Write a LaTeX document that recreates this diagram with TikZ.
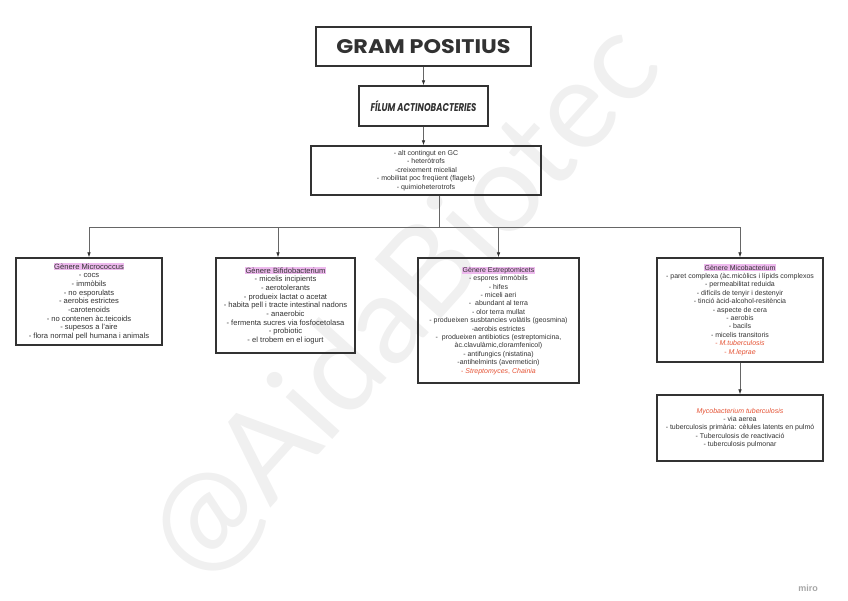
\documentclass[tikz,border=0pt]{standalone}
\usepackage{graphicx}
\usepackage{fontspec}
\setmainfont{Liberation Sans}
\newfontfamily\titlefont{Poppins}
\newfontfamily\wmfont{Lato}
\usetikzlibrary{arrows.meta}
\definecolor{ink}{RGB}{50,50,50}
\definecolor{hilite}{RGB}{238,186,238}
\definecolor{spred}{RGB}{228,82,52}
\newcommand{\genhead}[1]{{\fboxsep=0.6pt\colorbox{hilite}{#1}}}
\newcommand{\spname}[1]{\textcolor{spred}{\itshape #1}}
\tikzset{
  box/.style={draw=ink,line width=1.3pt,align=center,text=ink,inner sep=0pt,
    font=\fontsize{7}{8.4}\selectfont},
  bigbox/.style={box,font=\fontsize{7.6}{8.7}\selectfont},
  arr/.style={draw=black!60,line width=.7pt,-{Latex[length=5pt,width=3.6pt,color=black!80]}},
}
\begin{document}
\begin{tikzpicture}[x=1pt,y=-1pt]
  \useasboundingbox (0,0) rectangle (848,600);
  % watermark
  \node[rotate=48,text=black!6,font=\wmfont\fontsize{124}{124}\selectfont] (mark) at (405,302) {@AidaBiotec};
  \node[text=black!35,font=\bfseries\fontsize{9}{9}\selectfont] (miro) at (808,588) {miro};
  % top of the tree
  \node[box,line width=1.8pt,minimum width=215pt,minimum height=39pt] (gram) at (423.5,46.5)
    {\resizebox{174pt}{14pt}{\titlefont\bfseries GRAM POSITIUS}};
  \node[box,minimum width=129pt,minimum height=40pt] (filum) at (423.5,106)
    {\resizebox{106pt}{11pt}{\titlefont\bfseries\itshape FÍLUM ACTINOBACTERIES}};
  \node[box,minimum width=230pt,minimum height=49pt] (char) at (426,170.5)
    {- alt contingut en GC\\ - heteròtrofs\\ -creixement micelial\\
     - mobilitat poc freqüent (flagels)\\ - quimioheterotrofs};
  % genera
  \node[bigbox,minimum width=146pt,minimum height=87pt] (micro) at (89,301.5)
    {\genhead{Gènere Micrococcus}\\ - cocs\\ - immòbils\\ - no esporulats\\
     - aerobis estrictes\\ -carotenoids\\ - no contenen àc.teicoids\\
     - supesos a l'aire\\ - flora normal pell humana i animals};
  \node[bigbox,minimum width=139pt,minimum height=95pt] (bifido) at (285.5,305.5)
    {\genhead{Gènere Bifidobacterium}\\ - micelis incipients\\ - aerotolerants\\
     - produeix lactat o acetat\\ - habita pell i tracte intestinal nadons\\
     - anaerobic\\ - fermenta sucres via fosfocetolasa\\ - probiotic\\
     - el trobem en el iogurt};
  \node[box,minimum width=161pt,minimum height=125pt] (strep) at (498.5,320.5)
    {\genhead{Gènere Estreptomicets}\\ - espores immòbils\\ - hifes\\ - miceli aeri\\
     - \ abundant al terra\\ - olor terra mullat\\
     - produeixen susbtancies volàtils (geosmina)\\ -aerobis estrictes\\
     - \ produeixen antibiotics (estreptomicina,\\ àc.clavulàmic,cloramfenicol)\\
     - antifungics (nistatina)\\ -antihelmints (avermeticin)\\
     \textcolor{spred}{-} \spname{Streptomyces}\textcolor{spred}{,} \spname{Chainia}};
  \node[box,minimum width=166pt,minimum height=104pt] (micob) at (740,310)
    {\genhead{Gènere Micobacterium}\\ - paret complexa (àc.micòlics i lípids complexos\\
     - permeabilitat reduida\\ - difícils de tenyir i destenyir\\
     - tinció àcid-alcohol-resitència\\ - aspecte de cera\\ - aerobis\\ - bacils\\
     - micelis transitoris\\ \textcolor{spred}{-} \spname{M.tuberculosis}\\
     \textcolor{spred}{-} \spname{M.leprae}};
  \node[box,minimum width=166pt,minimum height=66pt] (tuber) at (740,428)
    {\spname{Mycobacterium tuberculosis}\\ - via aerea\\
     - tuberculosis primària: cèlules latents en pulmó\\
     - Tuberculosis de reactivació\\ - tuberculosis pulmonar};
  % connectors
  \coordinate (split) at (439,227);
  \draw[arr] (gram) -- (filum);
  \draw[arr] (filum.south) -- (filum.south |- char.north);
  \draw[black!60,line width=.7pt] (char.south -| split) -- (split);
  \draw[arr] (split) -| (micro.north);
  \draw[arr] (split) -| ([xshift=-7.5pt]bifido.north);
  \draw[arr] (split) -| (strep.north);
  \draw[arr] (split) -| (micob.north);
  \draw[arr] (micob) -- (tuber);
\end{tikzpicture}
\end{document}
